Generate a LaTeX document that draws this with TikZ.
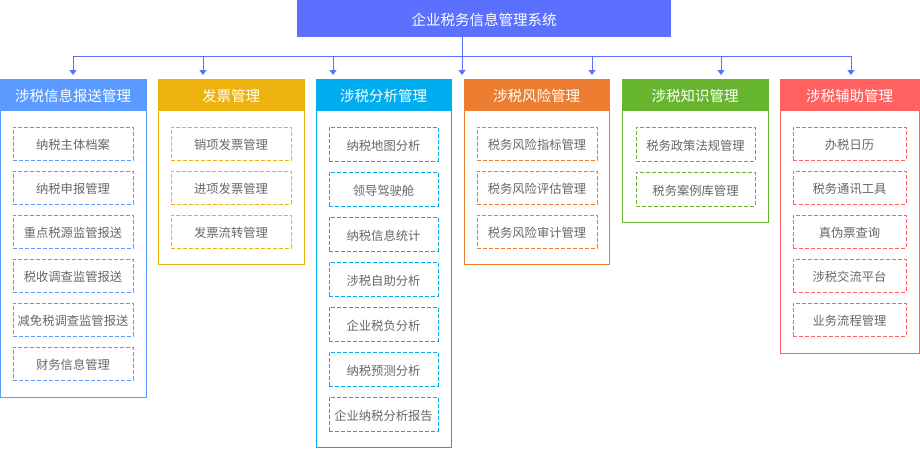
\documentclass[tikz,border=0pt]{standalone}
\usepackage{fontspec}
\setmainfont{Noto Sans CJK SC}
\usetikzlibrary{arrows.meta}
\definecolor{ctop}{HTML}{5B70FF}
\definecolor{cA}{HTML}{5B9BFF}
\definecolor{cB}{HTML}{EEB20C}
\definecolor{cC}{HTML}{00AEEF}
\definecolor{cD}{HTML}{ED7D31}
\definecolor{cE}{HTML}{67B52F}
\definecolor{cF}{HTML}{FF6161}
\definecolor{ctext}{HTML}{666666}
\tikzset{
  bodybox/.style={draw=#1, line width=1pt, anchor=north west, inner sep=0pt, outer sep=0pt},
  headbox/.style={fill=#1, text=white, font=\fontsize{14.5}{16}\selectfont, anchor=north west, inner sep=0pt, outer sep=0pt, minimum height=32pt, text height=13pt, text depth=0pt},
  itembox/.style={draw=#1, line width=1pt, dash pattern=on 4pt off 2pt, text=ctext, font=\fontsize{12.3}{14}\selectfont, anchor=north west, inner sep=0pt, outer sep=0pt, minimum height=33pt, text height=12pt, text depth=0pt},
  conn/.style={draw=ctop, line width=1pt},
  arr/.style={-{Triangle[width=7pt,length=5pt]}},
}
\begin{document}
\begin{tikzpicture}[x=1pt,y=-1pt]
\useasboundingbox (0,0) rectangle (920,448);
% top
\node[fill=ctop, text=white, font=\fontsize{14.5}{16}\selectfont, anchor=north west, inner sep=0pt, minimum width=374pt, minimum height=37pt, text height=13pt, text depth=0pt] (top) at (297,0) {企业税务信息管理系统};
% connectors
\coordinate (join) at (462,56);
\coordinate (t1) at (73,75);
\coordinate (t2) at (203,75);
\coordinate (t3) at (333,75);
\coordinate (t4) at (462,75);
\coordinate (t5) at (592,75);
\coordinate (t6) at (721,75);
\coordinate (t7) at (851,75);
\draw[conn] (t1 |- join) -- (t7 |- join);
\draw[conn,arr] (top.south -| t4) -- (t4);
\foreach \t in {t1,t2,t3,t5,t6,t7} {\draw[conn,arr] (\t |- join) -- (\t);}
% column 1
\node[bodybox=cA, minimum width=146pt, minimum height=318pt] (b1) at (0,79) {};
\node[headbox=cA, minimum width=146pt] (h1) at (0,79) {涉税信息报送管理};
\foreach \t [count=\i from 0] in {纳税主体档案,纳税申报管理,重点税源监管报送,税收调查监管报送,减免税调查监管报送,财务信息管理}
  {\node[itembox=cA, minimum width=120pt] (a\i) at (13,{127+44*\i}) {\t};}
% column 2
\node[bodybox=cB, minimum width=146pt, minimum height=185pt] (b2) at (158,79) {};
\node[headbox=cB, minimum width=146pt] (h2) at (158,79) {发票管理};
\foreach \t [count=\i from 0] in {销项发票管理,进项发票管理,发票流转管理}
  {\node[itembox=cB, minimum width=120pt] (bb\i) at (171,{127+44*\i}) {\t};}
% column 3
\node[bodybox=cC, minimum width=135pt, minimum height=368pt] (b3) at (316,79) {};
\node[headbox=cC, minimum width=135pt] (h3) at (316,79) {涉税分析管理};
\foreach \t [count=\i from 0] in {纳税地图分析,领导驾驶舱,纳税信息统计,涉税自助分析,企业税负分析,纳税预测分析,企业纳税分析报告}
  {\node[itembox=cC, minimum width=109pt, minimum height=34pt] (c\i) at (329,{127+45*\i}) {\t};}
% column 4
\node[bodybox=cD, minimum width=145pt, minimum height=185pt] (b4) at (464,79) {};
\node[headbox=cD, minimum width=145pt] (h4) at (464,79) {涉税风险管理};
\foreach \t [count=\i from 0] in {税务风险指标管理,税务风险评估管理,税务风险审计管理}
  {\node[itembox=cD, minimum width=120pt] (d\i) at (477,{127+44*\i}) {\t};}
% column 5
\node[bodybox=cE, minimum width=146pt, minimum height=143pt] (b5) at (622,79) {};
\node[headbox=cE, minimum width=146pt] (h5) at (622,79) {涉税知识管理};
\foreach \t [count=\i from 0] in {税务政策法规管理,税务案例库管理}
  {\node[itembox=cE, minimum width=119pt, minimum height=34pt] (e\i) at (636,{127+45*\i}) {\t};}
% column 6
\node[bodybox=cF, minimum width=139pt, minimum height=274pt] (b6) at (780,79) {};
\node[headbox=cF, minimum width=139pt] (h6) at (780,79) {涉税辅助管理};
\foreach \t [count=\i from 0] in {办税日历,税务通讯工具,真伪票查询,涉税交流平台,业务流程管理}
  {\node[itembox=cF, minimum width=113pt] (f\i) at (793,{127+44*\i}) {\t};}
\end{tikzpicture}
\end{document}
